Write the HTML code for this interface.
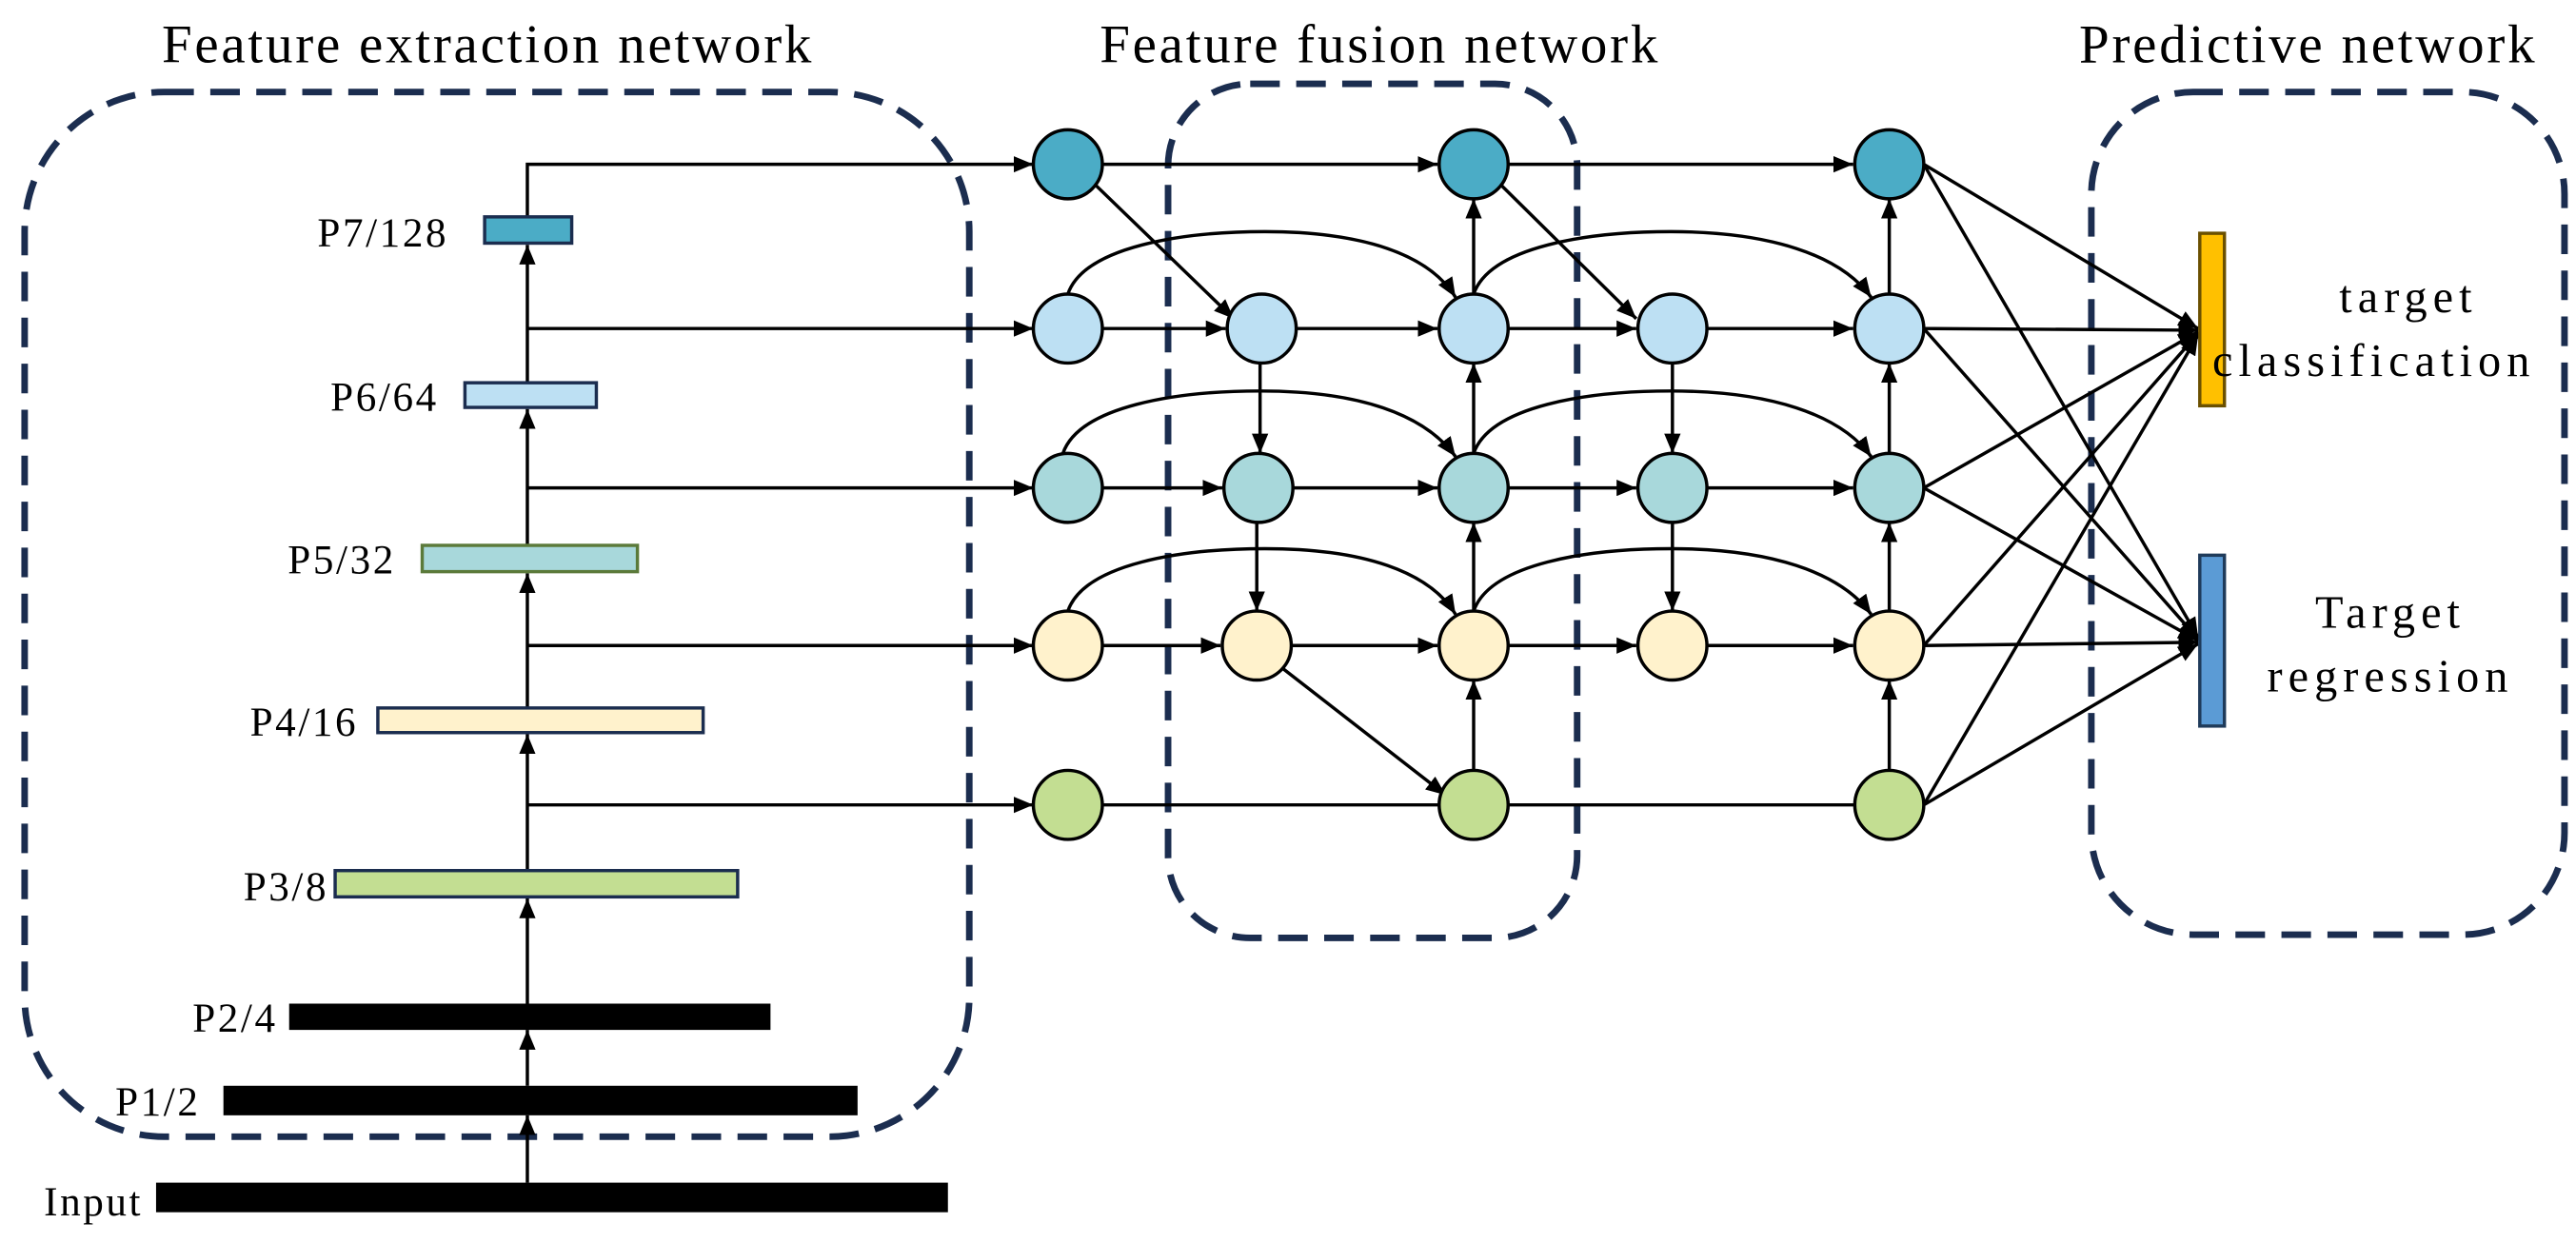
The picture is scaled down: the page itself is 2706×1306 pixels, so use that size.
<!DOCTYPE html>
<html><head><meta charset="utf-8"><style>
html,body{margin:0;padding:0;background:#fff;}
svg{display:block;}
text{font-family:"Liberation Serif",serif;fill:#000;}
</style></head><body>
<svg width="2706" height="1306" viewBox="0 0 1568 756.7" xmlns="http://www.w3.org/2000/svg">
<defs>
<marker id="a" viewBox="0 0 12 10" refX="12" refY="5" markerWidth="12" markerHeight="10" markerUnits="userSpaceOnUse" orient="auto">
<path d="M0,0 L12,5 L0,10 Z" fill="#000"/></marker>
</defs>
<!-- titles -->
<text x="297" y="38" font-size="33" letter-spacing="1.6" text-anchor="middle">Feature extraction network</text>
<text x="840" y="38" font-size="33" letter-spacing="1.6" text-anchor="middle">Feature fusion network</text>
<text x="1405" y="38" font-size="33" letter-spacing="1.6" text-anchor="middle">Predictive network</text>
<!-- dashed boxes -->
<g fill="none" stroke="#1b2d4f" stroke-width="4" stroke-dasharray="18 10">
<rect x="15" y="56" width="575" height="636" rx="85"/>
<rect x="711" y="51" width="249" height="520" rx="50"/>
<rect x="1273" y="56" width="288" height="513" rx="62"/>
</g>
<!-- backbone -->
<g stroke="#000" stroke-width="2" fill="none">
<line x1="321" y1="720" x2="321" y2="679" marker-end="url(#a)"/>
<line x1="321" y1="661" x2="321" y2="627" marker-end="url(#a)"/>
<line x1="321" y1="612" x2="321" y2="547" marker-end="url(#a)"/>
<line x1="321" y1="530" x2="321" y2="447" marker-end="url(#a)"/>
<line x1="321" y1="431" x2="321" y2="349" marker-end="url(#a)"/>
<line x1="321" y1="332" x2="321" y2="249" marker-end="url(#a)"/>
<line x1="321" y1="233" x2="321" y2="149" marker-end="url(#a)"/>
<polyline points="321,132 321,100 629,100" marker-end="url(#a)"/>
<line x1="321" y1="200" x2="629" y2="200" marker-end="url(#a)"/>
<line x1="321" y1="297" x2="629" y2="297" marker-end="url(#a)"/>
<line x1="321" y1="393" x2="629" y2="393" marker-end="url(#a)"/>
<line x1="321" y1="490" x2="629" y2="490" marker-end="url(#a)"/>
</g>
<g stroke="#1b2d4f" stroke-width="2">
<rect x="295" y="132" width="53" height="16" fill="#4bacc6"/>
<rect x="283" y="233" width="80" height="15" fill="#bde0f3"/>
<rect x="257" y="332" width="131" height="16" fill="#a8d8db" stroke="#5b7a3a"/>
<rect x="230" y="431" width="198" height="15" fill="#fff2cc"/>
<rect x="204" y="530" width="245" height="16" fill="#c3de92"/>
<rect x="177" y="612" width="291" height="14" fill="#000" stroke="#000"/>
<rect x="137" y="662" width="384" height="16" fill="#000" stroke="#000"/>
<rect x="96" y="721" width="480" height="16" fill="#000" stroke="#000"/>
</g>
<g font-size="25" letter-spacing="1.5" text-anchor="end">
<text x="273" y="150">P7/128</text>
<text x="267" y="250">P6/64</text>
<text x="241" y="349">P5/32</text>
<text x="218" y="448">P4/16</text>
<text x="200" y="548">P3/8</text>
<text x="169" y="628">P2/4</text>
<text x="122" y="679">P1/2</text>
<text x="87" y="740">Input</text>
</g>
<!-- fusion edges -->
<g stroke="#000" stroke-width="2" fill="none">
<line x1="671" y1="100" x2="875" y2="100" marker-end="url(#a)"/>
<line x1="918" y1="100" x2="1128" y2="100" marker-end="url(#a)"/>
<line x1="671" y1="200" x2="746" y2="200" marker-end="url(#a)"/>
<line x1="789" y1="200" x2="875" y2="200" marker-end="url(#a)"/>
<line x1="918" y1="200" x2="996" y2="200" marker-end="url(#a)"/>
<line x1="1039" y1="200" x2="1128" y2="200" marker-end="url(#a)"/>
<line x1="671" y1="297" x2="744" y2="297" marker-end="url(#a)"/>
<line x1="787" y1="297" x2="875" y2="297" marker-end="url(#a)"/>
<line x1="918" y1="297" x2="996" y2="297" marker-end="url(#a)"/>
<line x1="1039" y1="297" x2="1128" y2="297" marker-end="url(#a)"/>
<line x1="671" y1="393" x2="743" y2="393" marker-end="url(#a)"/>
<line x1="786" y1="393" x2="875" y2="393" marker-end="url(#a)"/>
<line x1="918" y1="393" x2="996" y2="393" marker-end="url(#a)"/>
<line x1="1039" y1="393" x2="1128" y2="393" marker-end="url(#a)"/>
<line x1="671" y1="490" x2="876" y2="490"/>
<line x1="918" y1="490" x2="1129" y2="490"/>
<line x1="661" y1="107" x2="751" y2="194" marker-end="url(#a)"/>
<line x1="908" y1="107" x2="996" y2="194" marker-end="url(#a)"/>
<line x1="777" y1="404" x2="880" y2="484" marker-end="url(#a)"/>
<line x1="767" y1="221" x2="767" y2="276" marker-end="url(#a)"/>
<line x1="765" y1="318" x2="765" y2="372" marker-end="url(#a)"/>
<line x1="1018" y1="221" x2="1018" y2="276" marker-end="url(#a)"/>
<line x1="1018" y1="318" x2="1018" y2="372" marker-end="url(#a)"/>
<line x1="897" y1="469" x2="897" y2="414" marker-end="url(#a)"/>
<line x1="897" y1="372" x2="897" y2="318" marker-end="url(#a)"/>
<line x1="897" y1="276" x2="897" y2="221" marker-end="url(#a)"/>
<line x1="897" y1="179" x2="897" y2="121" marker-end="url(#a)"/>
<line x1="1150" y1="469" x2="1150" y2="414" marker-end="url(#a)"/>
<line x1="1150" y1="372" x2="1150" y2="318" marker-end="url(#a)"/>
<line x1="1150" y1="276" x2="1150" y2="221" marker-end="url(#a)"/>
<line x1="1150" y1="179" x2="1150" y2="121" marker-end="url(#a)"/>
<path d="M650,179 C660,150 720,141 770,141 C830,141 870,155 886,181" marker-end="url(#a)"/>
<path d="M647,276 C657,247 717,238 767,238 C827,238 867,252 886,278" marker-end="url(#a)"/>
<path d="M650,372 C660,343 720,334 770,334 C830,334 870,348 886,374" marker-end="url(#a)"/>
<path d="M897,179 C907,150 967,141 1017,141 C1077,141 1120,155 1139,181" marker-end="url(#a)"/>
<path d="M897,276 C907,247 967,238 1017,238 C1077,238 1120,252 1139,278" marker-end="url(#a)"/>
<path d="M897,372 C907,343 967,334 1017,334 C1077,334 1120,348 1139,374" marker-end="url(#a)"/>
</g>
<!-- to outputs -->
<g stroke="#000" stroke-width="2" fill="none">
<line x1="1171" y1="100" x2="1338" y2="200" marker-end="url(#a)"/>
<line x1="1171" y1="200" x2="1338" y2="201" marker-end="url(#a)"/>
<line x1="1171" y1="297" x2="1338" y2="202" marker-end="url(#a)"/>
<line x1="1171" y1="393" x2="1338" y2="203" marker-end="url(#a)"/>
<line x1="1171" y1="490" x2="1338" y2="204" marker-end="url(#a)"/>
<line x1="1171" y1="100" x2="1338" y2="388" marker-end="url(#a)"/>
<line x1="1171" y1="200" x2="1338" y2="389" marker-end="url(#a)"/>
<line x1="1171" y1="297" x2="1338" y2="390" marker-end="url(#a)"/>
<line x1="1171" y1="393" x2="1338" y2="391" marker-end="url(#a)"/>
<line x1="1171" y1="490" x2="1338" y2="392" marker-end="url(#a)"/>
</g>
<rect x="1339" y="142" width="15" height="105" fill="#ffc000" stroke="#6b5000" stroke-width="2"/>
<rect x="1339" y="338" width="15" height="104" fill="#5b9bd5" stroke="#1f3b5a" stroke-width="2"/>
<g font-size="28" letter-spacing="3.5" text-anchor="middle">
<text x="1466" y="190">target</text>
<text x="1445" y="229">classification</text>
<text x="1455" y="382">Target</text>
<text x="1455" y="421">regression</text>
</g>
<!-- nodes -->
<g stroke="#000" stroke-width="2">
<circle cx="650" cy="100" r="21" fill="#4bacc6"/>
<circle cx="897" cy="100" r="21" fill="#4bacc6"/>
<circle cx="1150" cy="100" r="21" fill="#4bacc6"/>
<circle cx="650" cy="200" r="21" fill="#bde0f3"/>
<circle cx="768" cy="200" r="21" fill="#bde0f3"/>
<circle cx="897" cy="200" r="21" fill="#bde0f3"/>
<circle cx="1018" cy="200" r="21" fill="#bde0f3"/>
<circle cx="1150" cy="200" r="21" fill="#bde0f3"/>
<circle cx="650" cy="297" r="21" fill="#a8d8db"/>
<circle cx="766" cy="297" r="21" fill="#a8d8db"/>
<circle cx="897" cy="297" r="21" fill="#a8d8db"/>
<circle cx="1018" cy="297" r="21" fill="#a8d8db"/>
<circle cx="1150" cy="297" r="21" fill="#a8d8db"/>
<circle cx="650" cy="393" r="21" fill="#fff2cc"/>
<circle cx="765" cy="393" r="21" fill="#fff2cc"/>
<circle cx="897" cy="393" r="21" fill="#fff2cc"/>
<circle cx="1018" cy="393" r="21" fill="#fff2cc"/>
<circle cx="1150" cy="393" r="21" fill="#fff2cc"/>
<circle cx="650" cy="490" r="21" fill="#c3de92"/>
<circle cx="897" cy="490" r="21" fill="#c3de92"/>
<circle cx="1150" cy="490" r="21" fill="#c3de92"/>
</g>
</svg>
</body></html>
